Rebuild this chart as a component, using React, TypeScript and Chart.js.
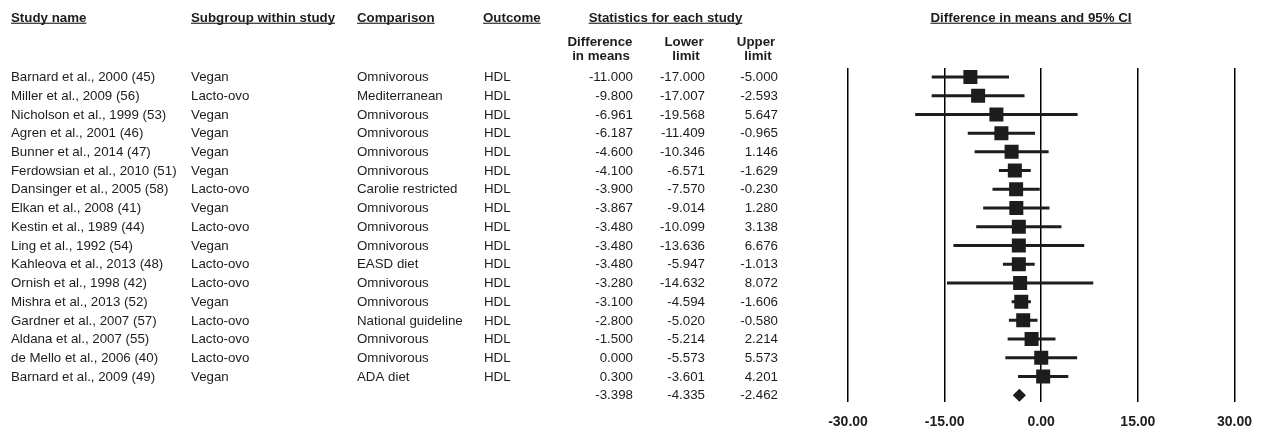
import React, { useEffect, useRef } from "react";
import { Chart, registerables } from "chart.js";

Chart.register(...registerables);

const studyNames = [
  "Barnard et al., 2000 (45)",
  "Miller et al., 2009 (56)",
  "Nicholson et al., 1999 (53)",
  "Agren et al., 2001 (46)",
  "Bunner et al., 2014 (47)",
  "Ferdowsian et al., 2010 (51)",
  "Dansinger et al., 2005 (58)",
  "Elkan et al., 2008 (41)",
  "Kestin et al., 1989 (44)",
  "Ling et al., 1992 (54)",
  "Kahleova et al., 2013 (48)",
  "Ornish et al., 1998 (42)",
  "Mishra et al., 2013 (52)",
  "Gardner et al., 2007 (57)",
  "Aldana et al., 2007 (55)",
  "de Mello et al., 2006 (40)",
  "Barnard et al., 2009 (49)",
];

const subgroups = [
  "Vegan", "Lacto-ovo", "Vegan", "Vegan", "Vegan", "Vegan", "Lacto-ovo", "Vegan",
  "Lacto-ovo", "Vegan", "Lacto-ovo", "Lacto-ovo", "Vegan", "Lacto-ovo", "Lacto-ovo",
  "Lacto-ovo", "Vegan",
];

const comparisons = [
  "Omnivorous", "Mediterranean", "Omnivorous", "Omnivorous", "Omnivorous", "Omnivorous",
  "Carolie restricted", "Omnivorous", "Omnivorous", "Omnivorous", "EASD diet", "Omnivorous",
  "Omnivorous", "National guideline", "Omnivorous", "Omnivorous", "ADA diet",
];

const outcomes = [
  "HDL", "HDL", "HDL", "HDL", "HDL", "HDL", "HDL", "HDL", "HDL", "HDL", "HDL", "HDL",
  "HDL", "HDL", "HDL", "HDL", "HDL",
];

const diffMeans = [
  -11.0, -9.8, -6.961, -6.187, -4.6, -4.1, -3.9, -3.867, -3.48, -3.48, -3.48, -3.28,
  -3.1, -2.8, -1.5, 0.0, 0.3,
];

const lowerLimits = [
  -17.0, -17.007, -19.568, -11.409, -10.346, -6.571, -7.57, -9.014, -10.099, -13.636,
  -5.947, -14.632, -4.594, -5.02, -5.214, -5.573, -3.601,
];

const upperLimits = [
  -5.0, -2.593, 5.647, -0.965, 1.146, -1.629, -0.23, 1.28, 3.138, 6.676, -1.013, 8.072,
  -1.606, -0.58, 2.214, 5.573, 4.201,
];

const summaryDiff = -3.398;
const summaryLower = -4.335;
const summaryUpper = -2.462;

const axisTicks = [-30, -15, 0, 15, 30];

const FONT = '"Liberation Sans", Arial, sans-serif';
const INK = "#1e1c1d";

const tablePlugin = {
  id: "forestTable",
  afterDraw(chart: any) {
    const ctx = chart.ctx as CanvasRenderingContext2D;
    const y = chart.scales.y;
    ctx.save();
    ctx.fillStyle = INK;
    ctx.strokeStyle = INK;

    const underlined = (text: string, x: number, baseY: number, align: CanvasTextAlign) => {
      ctx.font = `bold 13.3px ${FONT}`;
      ctx.textAlign = align;
      ctx.textBaseline = "alphabetic";
      ctx.fillText(text, x, baseY);
      const w = ctx.measureText(text).width;
      const x0 = align === "center" ? x - w / 2 : align === "right" ? x - w : x;
      ctx.fillRect(x0, baseY + 1.2, w, 1.1);
    };

    // headers
    underlined("Study name", 11, 21.5, "left");
    underlined("Subgroup within study", 191, 21.5, "left");
    underlined("Comparison", 357, 21.5, "left");
    underlined("Outcome", 483, 21.5, "left");
    underlined("Statistics for each study", 665.5, 21.5, "center");
    underlined("Difference in means and 95% CI", 1031, 21.5, "center");

    ctx.font = `bold 13.3px ${FONT}`;
    ctx.textAlign = "center";
    ctx.textBaseline = "alphabetic";
    ctx.fillText("Difference", 600, 45.5);
    ctx.fillText("in means", 601, 59.5);
    ctx.fillText("Lower", 684, 45.5);
    ctx.fillText("limit", 686, 59.5);
    ctx.fillText("Upper", 756, 45.5);
    ctx.fillText("limit", 758, 59.5);

    // rows
    ctx.font = `13.3px ${FONT}`;
    ctx.textBaseline = "middle";
    for (let i = 0; i < studyNames.length; i++) {
      const py = y.getPixelForValue(i) + 0.5;
      ctx.textAlign = "left";
      ctx.fillText(studyNames[i], 11, py);
      ctx.fillText(subgroups[i], 191, py);
      ctx.fillText(comparisons[i], 357, py);
      ctx.fillText(outcomes[i], 484, py);
      ctx.textAlign = "right";
      ctx.fillText(diffMeans[i].toFixed(3), 633, py);
      ctx.fillText(lowerLimits[i].toFixed(3), 705, py);
      ctx.fillText(upperLimits[i].toFixed(3), 778, py);
    }
    const sy = y.getPixelForValue(studyNames.length) + 0.5;
    ctx.textAlign = "right";
    ctx.fillText(summaryDiff.toFixed(3), 633, sy);
    ctx.fillText(summaryLower.toFixed(3), 705, sy);
    ctx.fillText(summaryUpper.toFixed(3), 778, sy);
    ctx.restore();
  },
};

export default function App() {
  const canvasRef = useRef<HTMLCanvasElement | null>(null);

  useEffect(() => {
    document.body.style.margin = "0";
    const canvas = canvasRef.current;
    if (!canvas) return;

    const n = studyNames.length;
    const squares = {
      type: "scatter",
      label: "Studies",
      order: 0,
      data: diffMeans.map((d, i) => ({ x: d, y: i })),
      pointStyle: "rect",
      pointRadius: 9.9,
      pointBackgroundColor: INK,
      pointBorderColor: INK,
      pointBorderWidth: 0,
      showLine: false,
    };
    const summary = {
      type: "scatter",
      label: "Summary",
      order: 0,
      data: [{ x: summaryDiff, y: n }],
      pointStyle: "rectRot",
      pointRadius: 6.6,
      pointBackgroundColor: INK,
      pointBorderColor: INK,
      pointBorderWidth: 0,
      showLine: false,
    };
    const ciLines = diffMeans.map((_, i) => ({
      type: "scatter",
      label: "CI " + i,
      order: 1,
      data: [
        { x: lowerLimits[i], y: i },
        { x: upperLimits[i], y: i },
      ],
      showLine: true,
      borderColor: INK,
      borderWidth: 3,
      pointRadius: 0,
      fill: false,
    }));

    const chart = new Chart(canvas, {
      type: "scatter",
      data: { datasets: [squares, summary, ...ciLines] as any },
      options: {
        responsive: false,
        animation: false,
        devicePixelRatio: 1,
        layout: { padding: { left: 848, right: 29, top: 68, bottom: 0 } },
        plugins: { legend: { display: false }, tooltip: { enabled: false } },
        scales: {
          x: {
            type: "linear",
            min: -30,
            max: 30,
            afterBuildTicks: (scale: any) => {
              scale.ticks = axisTicks.map((v) => ({ value: v }));
            },
            afterFit: (scale: any) => {
              scale.height = 28;
            },
            ticks: {
              callback: (v: any) => Number(v).toFixed(2),
              font: { family: FONT, size: 14, weight: "bold" },
              color: INK,
              padding: 12,
              maxRotation: 0,
              autoSkip: false,
            },
            grid: { color: "#000", lineWidth: 1.5, drawTicks: false },
            border: { display: false },
          },
          y: {
            type: "linear",
            display: false,
            reverse: true,
            min: -0.48,
            max: n + 0.36,
          },
        },
      },
      plugins: [tablePlugin],
    } as any);

    return () => chart.destroy();
  }, []);

  return (
    <div style={{ width: 1264, height: 430, background: "#fff" }}>
      <canvas ref={canvasRef} width={1264} height={430} style={{ display: "block" }} />
    </div>
  );
}
